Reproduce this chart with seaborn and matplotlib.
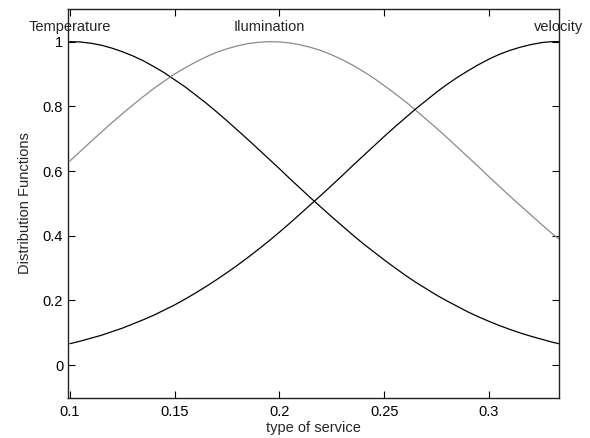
import matplotlib
matplotlib.use("Agg")
import matplotlib.pyplot as plt
import seaborn as sns
import pandas as pd

x_vals = [0.100, 0.105, 0.110, 0.115, 0.120, 0.125, 0.130, 0.135, 0.140, 0.145, 0.150, 0.155,
          0.160, 0.165, 0.170, 0.175, 0.180, 0.185, 0.190, 0.195, 0.200, 0.205, 0.210, 0.215,
          0.220, 0.225, 0.230, 0.235, 0.240, 0.245, 0.250, 0.255, 0.260, 0.265, 0.270, 0.275,
          0.280, 0.285, 0.290, 0.295, 0.300, 0.305, 0.310, 0.315, 0.320, 0.325, 0.330, 0.3333]
temperature = [1.0, 0.999, 0.995, 0.989, 0.980, 0.969, 0.956, 0.941, 0.923, 0.904, 0.882, 0.860,
               0.835, 0.810, 0.783, 0.755, 0.726, 0.697, 0.667, 0.637, 0.607, 0.576, 0.546, 0.516,
               0.487, 0.458, 0.430, 0.402, 0.375, 0.350, 0.325, 0.301, 0.278, 0.256, 0.236, 0.216,
               0.198, 0.181, 0.164, 0.149, 0.135, 0.122, 0.110, 0.099, 0.089, 0.080, 0.071, 0.066]
illumination = [0.631, 0.661, 0.691, 0.720, 0.749, 0.777, 0.804, 0.830, 0.855, 0.878, 0.900, 0.919,
                0.937, 0.953, 0.967, 0.978, 0.987, 0.994, 0.998, 1.0, 0.999, 0.996, 0.990, 0.982,
                0.972, 0.959, 0.944, 0.927, 0.908, 0.887, 0.864, 0.840, 0.815, 0.788, 0.760, 0.732,
                0.703, 0.673, 0.643, 0.613, 0.582, 0.552, 0.522, 0.493, 0.464, 0.435, 0.407, 0.390]
velocity = [0.066, 0.074, 0.083, 0.092, 0.103, 0.114, 0.127, 0.140, 0.154, 0.170, 0.186, 0.204,
            0.223, 0.243, 0.264, 0.286, 0.309, 0.333, 0.358, 0.384, 0.411, 0.439, 0.468, 0.497,
            0.526, 0.556, 0.586, 0.617, 0.647, 0.677, 0.707, 0.736, 0.764, 0.792, 0.818, 0.844,
            0.868, 0.890, 0.910, 0.929, 0.946, 0.961, 0.973, 0.983, 0.991, 0.997, 1.0, 1.0]

series_names = ["Temperature", "Ilumination", "velocity"]
label_x = [0.1, 0.195, 0.3333]
label_y = [1.045, 1.045, 1.045]
x_ticks = [0.1, 0.15, 0.2, 0.25, 0.3]
x_ticklabels = ["0.1", "0.15", "0.2", "0.25", "0.3"]
y_ticks = [0, 0.2, 0.4, 0.6, 0.8, 1.0]
y_ticklabels = ["0", "0.2", "0.4", "0.6", "0.8", "1"]

n = len(x_vals)
df = pd.DataFrame({
    "x": x_vals * 3,
    "y": temperature + illumination + velocity,
    "series": [series_names[0]] * n + [series_names[1]] * n + [series_names[2]] * n,
})

sns.set_style("ticks")
plt.rcParams["font.family"] = ["Liberation Sans", "DejaVu Sans"]

fig = plt.figure(figsize=(5.9, 4.38), dpi=100)
ax = fig.add_axes([0.1153, 0.092, 0.8322, 0.8875])

palette = {"Temperature": "#000000", "Ilumination": "#8a8a8a", "velocity": "#000000"}
sns.lineplot(data=df, x="x", y="y", hue="series", palette=palette, linewidth=0.9,
             legend=False, ax=ax, sort=False, estimator=None)

ax.set_xlim(0.0991, 0.3334)
ax.set_ylim(-0.101, 1.101)
ax.set_xticks(x_ticks)
ax.set_xticklabels(x_ticklabels)
ax.set_yticks(y_ticks)
ax.set_yticklabels(y_ticklabels)
ax.tick_params(direction="in", length=5, width=0.8, top=True, right=True,
               labelsize=10.5, colors="#000000", color="#000000")
ax.tick_params(axis="x", pad=5)
ax.tick_params(axis="y", pad=3.5)
for s in ax.spines.values():
    s.set_color("#222222")
    s.set_linewidth(1.0)
    s.set_visible(True)

ax.set_xlabel("type of service", fontsize=10.5, labelpad=1.5)
ax.set_ylabel("Distribution Functions", fontsize=10.5, labelpad=8)

for name, lx, ly in zip(series_names, label_x, label_y):
    ax.text(lx, ly, name, ha="center", va="center", fontsize=10.5, clip_on=False)

fig.savefig("out.png", dpi=100)
